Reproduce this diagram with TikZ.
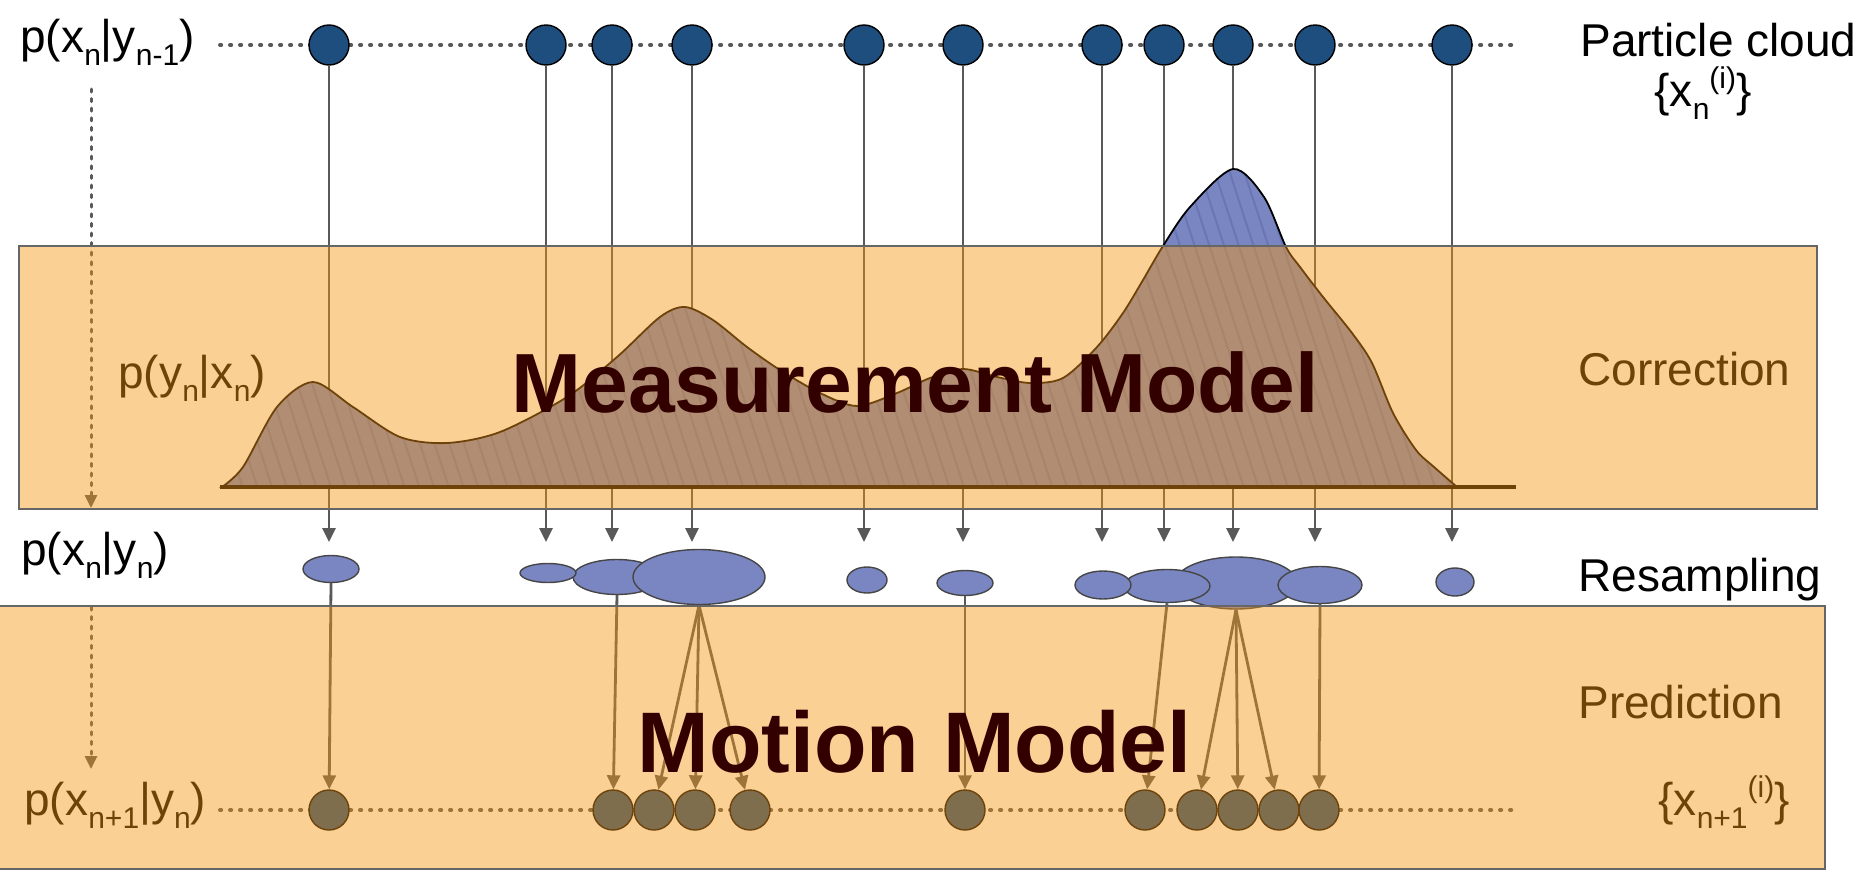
\documentclass[tikz,border=0pt]{standalone}
\usepackage{fontspec}
\setmainfont{Liberation Sans}
\usetikzlibrary{arrows.meta,patterns.meta,shapes.geometric}

\definecolor{ptblue}{RGB}{30,78,126}
\definecolor{rsblue}{RGB}{122,134,194}
\definecolor{hatchblue}{RGB}{106,118,180}
\definecolor{rsline}{RGB}{70,70,70}
\definecolor{wiregray}{RGB}{89,89,89}
\definecolor{frame}{RGB}{102,102,102}
\definecolor{tint}{RGB}{245,150,20}
\definecolor{title}{RGB}{51,0,0}

\newcommand{\lowidx}[1]{\raisebox{-0.3em}{\fontsize{15}{15}\selectfont #1}}
\newcommand{\highidx}[1]{\raisebox{0.37em}{\fontsize{15}{15}\selectfont #1}}

\begin{document}
\begin{tikzpicture}[x=0.5pt, y=-0.5pt,
    particle/.style={circle, draw=black, line width=0.7pt, fill=ptblue, minimum size=20pt, inner sep=0pt},
    resampled/.style={ellipse, draw=rsline, line width=0.7pt, fill=rsblue, inner sep=0pt},
    wire/.style={draw=wiregray, line width=1.4pt, -{Triangle[length=7pt,width=6.5pt]}},
    dotline/.style={draw=wiregray, line width=2pt, line cap=round, dash pattern=on 0.6pt off 4.4pt},
    guide/.style={draw=wiregray, line width=1.5pt, line cap=round, dash pattern=on 1.5pt off 3.3pt, -{Triangle[length=6.5pt,width=6pt]}},
    lbl/.style={font=\fontsize{23}{27}\selectfont, inner sep=0pt, anchor=base west},
    big/.style={font=\fontsize{42}{50}\selectfont\bfseries, text=title, inner sep=0pt, anchor=base west},
    panel/.style={draw=frame, line width=1pt, fill=tint, fill opacity=0.45}]
    \useasboundingbox (0,0) rectangle (1864,873);

    % dotted particle axes
    \coordinate (cloud west) at (220,45);
    \coordinate (cloud east) at (1516,45);
    \draw[dotline] (cloud west) -- (cloud east);
    \coordinate (next west) at (220,810);
    \coordinate (next east) at (1516,810);
    \draw[dotline] (next west) -- (next east);

    % particle cloud and measurement rays
    \foreach \x [count=\i] in {329,546,612,692,864,963,1102,1164,1233,1315,1452}{
        \node[particle] (T\i) at (\x,45) {};
        \coordinate (A\i) at (\x,542);
        \draw[wire] (T\i) -- (A\i);
    }

    % time step guides on the left
    \coordinate (g1) at (91,89);
    \coordinate (g2) at (91,508);
    \draw[guide] (g1) -- (g2);
    \coordinate (g3) at (91,607);
    \coordinate (g4) at (91,769);
    \draw[guide] (g3) -- (g4);

    % likelihood
    \path[draw=black, line width=0.9pt, preaction={fill=rsblue},
        pattern={Lines[angle=108,distance=7pt,line width=1pt]}, pattern color=hatchblue]
        plot[smooth] coordinates {(222,487) (243,467) (277,407) (313,382) (353,407) (400,437)
        (447,443) (500,432) (567,397) (617,357) (660,317) (685,307) (713,320) (747,347)
        (780,370) (820,393) (857,406) (897,393) (930,378) (963,369) (997,377) (1030,383)
        (1063,378) (1097,347) (1123,313) (1143,280) (1163,246) (1190,207) (1233,169)
        (1264,197) (1286,247) (1300,267) (1323,297) (1352,333) (1372,363) (1393,413)
        (1416,450) (1434,467) (1457,487)} -- cycle;
    \draw[line width=1.6pt] (220,487) -- (1516,487);

    % weighted particles
    \node[resampled, minimum width=28pt, minimum height=13.5pt] (R1) at (331,569) {};
    \node[resampled, minimum width=44pt, minimum height=17.5pt] (R3) at (617,577) {};
    \node[resampled, minimum width=28pt, minimum height=9.5pt] (R2) at (548,573) {};
    \node[resampled, minimum width=66pt, minimum height=27.5pt] (R4) at (699,577) {};
    \node[resampled, minimum width=20pt, minimum height=13pt] (R5) at (867,580) {};
    \node[resampled, minimum width=28pt, minimum height=12.5pt] (R6) at (965,583) {};
    \node[resampled, minimum width=61pt, minimum height=26pt] (R9) at (1236,583) {};
    \node[resampled, minimum width=43pt, minimum height=16.5pt] (R8) at (1167,586) {};
    \node[resampled, minimum width=28pt, minimum height=14pt] (R7) at (1103,585) {};
    \node[resampled, minimum width=42pt, minimum height=18.5pt] (R10) at (1320,585) {};
    \node[resampled, minimum width=19pt, minimum height=14pt] (R11) at (1455,582) {};

    % predicted particles
    \foreach \x [count=\i] in {329,613,654,695,750,965,1145,1197,1238,1279,1319}
        \node[particle] (B\i) at (\x,810) {};
    \foreach \a/\b in {R1/B1,R3/B2,R4/B3,R4/B4,R4/B5,R6/B6,R8/B7,R9/B8,R9/B9,R9/B10,R10/B11}
        \draw[wire] (\a.south) -- (\b);

    % labels seen through the panels
    \node[lbl] (like) at (118,388) {p(y\lowidx{n}|x\lowidx{n})};
    \node[lbl] (corr) at (1578,385) {Correction};
    \node[lbl] (pred) at (1578,718) {Prediction};
    \node[lbl] (predset) at (1658,815) {\{x\lowidx{n+1}\highidx{(i)}\}};
    \node[lbl] (prednext) at (24,815) {p(x\lowidx{n+1}|y\lowidx{n})};

    % panels
    \draw[panel] (19,246) rectangle (1817,509);
    \draw[panel] (-5,606) rectangle (1825,869);

    \node[lbl] (prior) at (20,52) {p(x\lowidx{n}|y\lowidx{n-1})};
    \node[lbl] (cloud) at (1580,56) {Particle cloud};
    \node[lbl] (cloudset) at (1654,106) {\{x\lowidx{n}\highidx{(i)}\}};
    \node[lbl] (post) at (21,565) {p(x\lowidx{n}|y\lowidx{n})};
    \node[lbl] (resamp) at (1578,591) {Resampling};
    \node[big] (meas) at (511,412) {Measurement Model};
    \node[big, font=\fontsize{43}{50}\selectfont\bfseries] (motion) at (637,772) {Motion Model};
\end{tikzpicture}
\end{document}
